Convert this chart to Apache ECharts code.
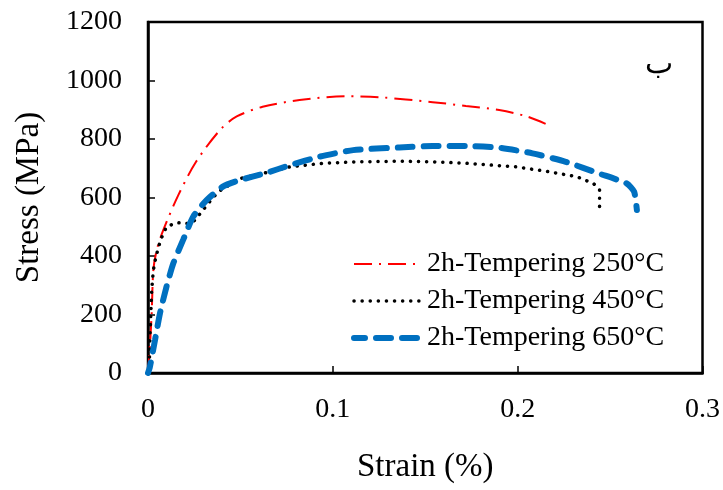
<!DOCTYPE html>
<html><head><meta charset="utf-8">
<script src="https://cdn.jsdelivr.net/npm/echarts@6/dist/echarts.min.js"></script>
<style>html,body{margin:0;padding:0;background:#fff}#c{width:723px;height:490px}</style>
</head><body><div id="c"></div>
<script>
const seriesNames = ['2h-Tempering 250°C', '2h-Tempering 450°C', '2h-Tempering 650°C'];
const xTicks = [0, 0.1, 0.2, 0.3];
const yTicks = [0, 200, 400, 600, 800, 1000, 1200];
const strain250 = [0, 0.001, 0.002, 0.0029, 0.0047, 0.0083, 0.0164, 0.026, 0.039, 0.048, 0.062, 0.082, 0.107, 0.125, 0.154, 0.172, 0.19, 0.205, 0.2165];
const stress250 = [0, 90, 205, 352, 420, 489, 608, 722, 831, 877, 910, 933, 946, 943, 926, 913, 899, 877, 848];
const strain450 = [0, 0.0007, 0.001, 0.002, 0.0029, 0.0043, 0.0068, 0.010, 0.0155, 0.021, 0.0245, 0.029, 0.0326, 0.038, 0.050, 0.062, 0.077, 0.095, 0.113, 0.138, 0.154, 0.172, 0.199, 0.217, 0.232, 0.241, 0.2443, 0.2443];
const stress450 = [0, 10, 113, 284, 352, 398, 455, 500, 514, 511, 517, 551, 580, 620, 665, 682, 705, 717, 722, 724, 722, 717, 705, 688, 671, 648, 626, 551];
const strain650 = [0, 0.001, 0.0038, 0.0065, 0.010, 0.0137, 0.019, 0.0245, 0.0317, 0.0407, 0.050, 0.064, 0.077, 0.093, 0.111, 0.136, 0.154, 0.172, 0.19, 0.208, 0.226, 0.244, 0.259, 0.263, 0.2645];
const stress650 = [0, 20, 113, 205, 295, 375, 455, 535, 591, 638, 660, 684, 711, 740, 762, 771, 776, 776, 770, 751, 722, 682, 648, 620, 557];
const panelLabel = 'ب';

function pairs(xs, ys) { return xs.map((x, i) => [x, ys[i]]); }
const serif = 'Liberation Serif';
const styles = [
  {color: '#ff0000', width: 2, type: [18, 7, 2, 7]},
  {color: '#000000', width: 3.5, type: [0.1, 8], cap: 'round'},
  {color: '#0070c0', width: 6, type: [15, 11], cap: 'round', dashOffset: 4}
];
const smoothness = [0.3, false, 0.2];
const chart = echarts.init(document.getElementById('c'), null, {renderer: 'canvas'});
chart.setOption({
  animation: false,
  backgroundColor: '#fff',
  grid: {left: 148, right: 20, top: 22, bottom: 117, show: true, borderColor: '#000', borderWidth: 2.5, backgroundColor: 'transparent'},
  xAxis: {
    type: 'value', min: xTicks[0], max: xTicks[xTicks.length - 1], interval: 0.1,
    name: 'Strain (%)', nameLocation: 'middle', nameGap: 78,
    nameTextStyle: {fontFamily: serif, fontSize: 33, color: '#000'},
    axisLine: {show: true, lineStyle: {color: '#000', width: 2.5}},
    axisTick: {show: true, inside: true, length: 7, lineStyle: {color: '#000', width: 1.5}},
    axisLabel: {fontFamily: serif, fontSize: 28, color: '#000', margin: 23, formatter: v => String(v)},
    splitLine: {show: false}
  },
  yAxis: {
    type: 'value', min: yTicks[0], max: yTicks[yTicks.length - 1], interval: 200,
    name: 'Stress (MPa)', nameLocation: 'middle', nameGap: 102,
    nameTextStyle: {fontFamily: serif, fontSize: 33, color: '#000'},
    axisLine: {show: true, lineStyle: {color: '#000', width: 2.5}},
    axisTick: {show: true, inside: true, length: 7, lineStyle: {color: '#000', width: 1.5}},
    axisLabel: {fontFamily: serif, fontSize: 28, color: '#000', margin: 26, formatter: v => String(v)},
    splitLine: {show: false}
  },
  legend: {
    orient: 'vertical', left: 346, top: 245, itemWidth: 68, itemHeight: 14, itemGap: 9,
    textStyle: {fontFamily: serif, fontSize: 28, color: '#000'},
    itemStyle: {opacity: 0},
    data: seriesNames.map((n, i) => ({name: n, lineStyle: styles[i], itemStyle: {opacity: 0}}))
  },
  graphic: [{type: 'text', left: 645, top: 50, style: {text: panelLabel, font: '30px "DejaVu Serif"', fill: '#000'}}],
  series: seriesNames.map((n, i) => ({
    name: n, type: 'line', showSymbol: false, symbol: 'none', smooth: smoothness[i],
    data: pairs([strain250, strain450, strain650][i], [stress250, stress450, stress650][i]),
    lineStyle: styles[i], itemStyle: {color: styles[i].color}
  }))
});
</script></body></html>
